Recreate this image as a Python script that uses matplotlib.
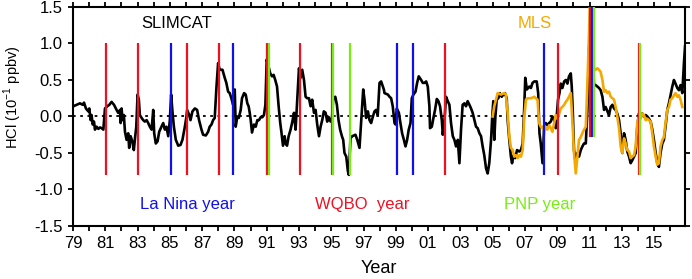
import numpy as np
import matplotlib
matplotlib.use("Agg")
import matplotlib.pyplot as plt
from matplotlib.ticker import MultipleLocator, FixedLocator

plt.rcParams['font.family'] = ['Liberation Sans', 'DejaVu Sans']
plt.rcParams['mathtext.fontset'] = 'custom'
plt.rcParams['mathtext.rm'] = 'Liberation Sans'

# SLIMCAT HCl anomaly
slim_year = [1979.02, 1979.23, 1979.43, 1979.60, 1979.68, 1979.80, 1979.95, 1980.01, 1980.09, 1980.15,
             1980.22, 1980.30, 1980.36, 1980.46, 1980.57, 1980.67, 1980.77, 1980.88, 1980.98, 1981.12,
             1981.25, 1981.39, 1981.54, 1981.70, 1981.80, 1981.91, 1981.95, 1982.01, 1982.07, 1982.15,
             1982.22, 1982.32, 1982.42, 1982.48, 1982.57, 1982.67, 1982.77, 1982.84, 1982.92, 1983.00,
             1983.08, 1983.14, 1983.25, 1983.35, 1983.45, 1983.56, 1983.66, 1983.76, 1983.87, 1983.97,
             1984.03, 1984.13, 1984.24, 1984.34, 1984.48, 1984.59, 1984.69, 1984.79, 1984.90, 1985.00,
             1985.08, 1985.16, 1985.25, 1985.37, 1985.52, 1985.66, 1985.78, 1985.93, 1986.03, 1986.07,
             1986.20, 1986.28, 1986.40, 1986.55, 1986.69, 1986.81, 1986.96, 1987.06, 1987.23, 1987.37,
             1987.47, 1987.58, 1987.68, 1987.78, 1987.89, 1987.99, 1988.09, 1988.26, 1988.40, 1988.50,
             1988.61, 1988.71, 1988.81, 1988.92, 1989.02, 1989.08, 1989.18, 1989.27, 1989.39, 1989.47,
             1989.60, 1989.70, 1989.80, 1989.88, 1989.95, 1990.01, 1990.09, 1990.21, 1990.32, 1990.42,
             1990.52, 1990.63, 1990.73, 1990.83, 1990.92, 1991.00, 1991.12, 1991.22, 1991.33, 1991.43,
             1991.53, 1991.64, 1991.74, 1991.84, 1991.91, 1992.01, 1992.11, 1992.17, 1992.26, 1992.36,
             1992.48, 1992.59, 1992.69, 1992.79, 1992.89, 1993.00, 1993.10, 1993.20, 1993.31, 1993.41,
             1993.51, 1993.62, 1993.72, 1993.82, 1993.93, 1994.03, 1994.13, 1994.24, 1994.34, 1994.44,
             1994.54, 1994.65, 1994.75, 1994.85, 1994.96, 1995.04, 1995.12, 1995.25, 1995.35, 1995.45,
             1995.55, 1995.66, 1995.74, 1995.82, 1995.93, 1996.03, 1996.09, 1996.19, 1996.30, 1996.40,
             1996.50, 1996.61, 1996.75, 1996.85, 1996.98, 1997.06, 1997.16, 1997.27, 1997.37, 1997.47,
             1997.58, 1997.68, 1997.78, 1997.88, 1997.99, 1998.09, 1998.26, 1998.30, 1998.40, 1998.51,
             1998.61, 1998.71, 1998.81, 1998.92, 1998.98, 1999.06, 1999.19, 1999.27, 1999.39, 1999.50,
             1999.60, 1999.70, 1999.80, 1999.91, 1999.99, 2000.09, 2000.22, 2000.32, 2000.42, 2000.57,
             2000.67, 2000.77, 2000.88, 2000.98, 2001.08, 2001.12, 2001.23, 2001.33, 2001.43, 2001.54,
             2001.64, 2001.74, 2001.85, 2001.91, 2002.01, 2002.11, 2002.22, 2002.32, 2002.42, 2002.53,
             2002.63, 2002.73, 2002.84, 2002.94, 2003.04, 2003.14, 2003.25, 2003.35, 2003.45, 2003.56,
             2003.66, 2003.76, 2003.87, 2003.97, 2004.07, 2004.18, 2004.28, 2004.38, 2004.48, 2004.59,
             2004.69, 2004.79, 2004.90, 2004.97, 2005.04, 2005.10, 2005.17, 2005.25, 2005.35, 2005.45,
             2005.56, 2005.66, 2005.76, 2005.87, 2005.93, 2006.03, 2006.13, 2006.20, 2006.30, 2006.40,
             2006.51, 2006.65, 2006.75, 2006.86, 2006.96, 2007.02, 2007.12, 2007.27, 2007.37, 2007.47,
             2007.58, 2007.73, 2007.82, 2007.90, 2007.98, 2008.09, 2008.19, 2008.29, 2008.39, 2008.50,
             2008.60, 2008.70, 2008.81, 2008.91, 2008.97, 2009.05, 2009.14, 2009.22, 2009.32, 2009.43,
             2009.53, 2009.63, 2009.73, 2009.84, 2009.90, 2009.96, 2010.04, 2010.15, 2010.25, 2010.35,
             2010.46, 2010.56, 2010.66, 2010.77, 2010.87, 2010.97, 2011.08, 2011.18, 2011.28, 2011.38,
             2011.49, 2011.59, 2011.69, 2011.80, 2011.90, 2012.00, 2012.11, 2012.21, 2012.31, 2012.42,
             2012.52, 2012.62, 2012.72, 2012.83, 2012.93, 2013.03, 2013.14, 2013.24, 2013.34, 2013.45,
             2013.55, 2013.65, 2013.76, 2013.86, 2013.96, 2014.06, 2014.17, 2014.27, 2014.37, 2014.48,
             2014.58, 2014.68, 2014.79, 2014.89, 2014.99, 2015.10, 2015.20, 2015.30, 2015.40, 2015.51,
             2015.61, 2015.71, 2015.82, 2015.92, 2016.02, 2016.13, 2016.23, 2016.33, 2016.44, 2016.54,
             2016.64, 2016.75, 2016.85, 2016.92]
slim_val = [0.14, 0.16, 0.18, 0.16, 0.19, 0.11, 0.07, 0.11, -0.05, 0.02,
            -0.11, -0.07, -0.18, -0.14, -0.17, -0.15, -0.16, -0.18, 0.11, 0.14,
            0.16, 0.20, 0.16, 0.09, 0.05, 0.09, -0.09, 0.11, -0.05, 0.02,
            -0.21, -0.32, -0.23, -0.43, -0.27, -0.34, -0.46, -0.30, -0.14, 0.30,
            0.23, 0.02, -0.02, -0.05, -0.07, -0.05, -0.09, -0.14, -0.18, 0.09,
            -0.23, -0.37, -0.34, -0.21, -0.14, -0.09, -0.18, -0.14, -0.27, -0.05,
            0.30, 0.07, -0.14, -0.32, -0.40, -0.39, -0.32, -0.14, 0.00, 0.09,
            0.02, -0.05, 0.07, 0.11, 0.09, -0.05, -0.18, -0.25, -0.26, -0.21,
            -0.14, -0.11, -0.05, -0.02, 0.41, 0.73, 0.64, 0.64, 0.53, 0.46,
            0.34, 0.32, 0.25, 0.16, 0.37, -0.14, 0.00, -0.02, 0.09, 0.25,
            0.32, 0.30, 0.18, 0.14, 0.05, -0.05, -0.22, -0.11, -0.14, -0.05,
            -0.05, -0.01, -0.01, 0.02, 0.16, 0.78, 0.68, 0.59, 0.55, 0.57,
            0.50, 0.41, 0.14, -0.09, -0.21, -0.40, -0.27, -0.37, -0.40, -0.27,
            -0.18, -0.07, 0.05, -0.18, 0.23, 0.66, 0.53, 0.64, 0.50, 0.27,
            0.25, 0.25, 0.14, 0.23, 0.05, 0.09, -0.11, -0.27, -0.14, -0.05,
            0.07, 0.05, -0.07, -0.01, -0.07, -0.05, 0.25, 0.27, 0.16, -0.05,
            -0.18, -0.27, -0.32, -0.50, -0.55, -0.75, -0.80, -0.30, -0.27, -0.26,
            -0.25, -0.32, -0.43, -0.09, 0.37, 0.23, -0.02, 0.07, -0.05, -0.09,
            0.00, 0.07, 0.09, 0.02, 0.46, 0.48, 0.37, 0.32, 0.31, 0.30,
            0.27, 0.25, 0.14, -0.09, -0.11, 0.11, 0.05, -0.07, -0.23, -0.32,
            -0.41, -0.32, -0.18, -0.09, 0.25, 0.30, 0.34, 0.46, 0.55, 0.50,
            0.46, 0.46, 0.48, 0.41, 0.14, -0.16, -0.14, -0.02, 0.09, 0.24,
            0.21, 0.14, -0.05, -0.25, -0.07, 0.27, 0.21, 0.16, -0.09, -0.27,
            -0.32, -0.41, -0.32, -0.64, -0.18, 0.16, 0.18, 0.14, 0.21, 0.16,
            0.11, 0.05, -0.05, -0.14, -0.16, -0.23, -0.27, -0.41, -0.53, -0.71,
            -0.78, -0.64, -0.32, -0.02, 0.21, -0.32, 0.00, 0.23, 0.25, 0.32,
            0.27, 0.30, 0.32, 0.25, -0.05, -0.32, -0.55, -0.64, -0.53, -0.57,
            -0.46, -0.48, -0.46, -0.37, 0.14, 0.53, 0.37, 0.41, 0.39, 0.46,
            0.48, 0.48, 0.32, -0.23, -0.37, -0.64, -0.14, -0.09, -0.12, -0.09,
            -0.07, 0.00, -0.05, -0.16, 0.00, 0.23, 0.32, 0.45, 0.39, 0.48,
            0.50, 0.45, 0.55, 0.59, 0.41, 0.09, -0.46, -0.64, -0.50, -0.55,
            -0.46, -0.41, -0.37, -0.37, 0.09, 0.91, 1.41, 0.91, 0.43, 0.43,
            0.41, 0.39, 0.36, 0.27, 0.09, 0.13, 0.07, 0.02, 0.13, 0.16,
            0.11, 0.09, 0.04, -0.05, -0.23, -0.50, -0.23, -0.32, -0.48, -0.55,
            -0.64, -0.60, -0.55, -0.50, -0.14, 0.04, 0.02, 0.04, 0.00, 0.02,
            0.00, -0.03, -0.07, -0.18, -0.32, -0.50, -0.64, -0.69, -0.50, -0.37,
            -0.32, -0.14, 0.09, 0.18, 0.29, 0.41, 0.50, 0.45, 0.39, 0.36,
            0.43, 0.32, 0.73, 0.96]

# MLS HCl anomaly
mls_year = [2005.00, 2005.10, 2005.31, 2005.52, 2005.72, 2005.82, 2005.93, 2006.03, 2006.13, 2006.24,
            2006.34, 2006.44, 2006.55, 2006.65, 2006.75, 2006.86, 2006.96, 2007.06, 2007.17, 2007.37,
            2007.58, 2007.67, 2007.78, 2007.88, 2007.98, 2008.09, 2008.19, 2008.29, 2008.39, 2008.50,
            2008.60, 2008.70, 2008.81, 2008.91, 2009.01, 2009.12, 2009.22, 2009.32, 2009.43, 2009.53,
            2009.63, 2009.73, 2009.84, 2009.90, 2009.98, 2010.04, 2010.15, 2010.25, 2010.35, 2010.46,
            2010.56, 2010.66, 2010.77, 2010.87, 2010.97, 2011.03, 2011.18, 2011.28, 2011.38, 2011.49,
            2011.59, 2011.69, 2011.80, 2011.90, 2012.00, 2012.11, 2012.21, 2012.31, 2012.42, 2012.52,
            2012.62, 2012.72, 2012.83, 2012.93, 2013.03, 2013.14, 2013.24, 2013.34, 2013.45, 2013.55,
            2013.65, 2013.76, 2013.86, 2013.96, 2014.06, 2014.17, 2014.27, 2014.37, 2014.48, 2014.58,
            2014.68, 2014.79, 2014.89, 2014.99, 2015.10, 2015.20, 2015.30, 2015.40, 2015.51, 2015.61,
            2015.71, 2015.82, 2015.92, 2016.02, 2016.13, 2016.23, 2016.33, 2016.44, 2016.54, 2016.64,
            2016.75]
mls_val = [0.00, 0.14, 0.32, 0.30, 0.32, 0.30, 0.05, -0.27, -0.43, -0.46,
           -0.55, -0.53, -0.57, -0.53, -0.55, -0.46, 0.00, 0.23, 0.25, 0.25,
           0.27, 0.25, 0.23, -0.09, -0.14, -0.16, -0.12, -0.16, -0.18, -0.12,
           -0.16, -0.21, -0.09, 0.02, -0.03, 0.04, 0.11, 0.13, 0.16, 0.20,
           0.23, 0.27, 0.32, 0.09, -0.23, -0.50, -0.78, -0.55, -0.32, -0.28,
           -0.23, -0.18, -0.14, 0.45, 1.14, 1.60, 1.05, 0.66, 0.64, 0.66,
           0.64, 0.61, 0.50, 0.34, 0.36, 0.32, 0.34, 0.27, 0.25, 0.23,
           0.13, 0.00, -0.16, -0.41, -0.50, -0.30, -0.37, -0.46, -0.48, -0.57,
           -0.55, -0.53, -0.41, -0.09, 0.00, -0.03, 0.04, 0.02, -0.05, -0.03,
           -0.05, -0.07, -0.23, -0.41, -0.55, -0.66, -0.64, -0.41, -0.32, -0.28,
           -0.09, 0.09, 0.13, 0.23, 0.25, 0.29, 0.32, 0.27, 0.29, 0.23,
           0.13]

# event years (vertical bars) with their lower / upper ends
wqbo_year = [1981.05, 1983.05, 1986.05, 1988.05, 1991.05, 1993.05, 1995.05, 2002.05, 2009.05, 2011.05, 2014.05]
wqbo_lo = [-0.8] * 9 + [-0.28, -0.8]
wqbo_hi = [1.0] * 9 + [1.6, 1.0]
nina_year = [1985.05, 1988.9, 1999.05, 2000.05, 2008.15, 2011.15]
nina_lo = [-0.8] * 5 + [-0.28]
nina_hi = [1.0] * 5 + [1.6]
pnp_year = [1991.13, 1995.13, 1996.15, 2011.25, 2014.15]
pnp_lo = [-0.8, -0.8, -0.8, -0.28, -0.8]
pnp_hi = [1.0, 1.0, 1.0, 1.6, 1.0]

c_red = '#ee1122'
c_blue = '#1010ee'
c_green = '#77ee11'
c_orange = '#f5a800'

fig = plt.figure(figsize=(6.92, 2.79), dpi=100)
ax = fig.add_axes([0.1055, 0.19, 0.884, 0.785])

ax.axhline(0, color='black', ls=(0, (1.5, 2.5)), lw=1.3, zorder=1)
ax.plot(slim_year, slim_val, color='black', lw=1.9, zorder=2)
ax.plot(mls_year, mls_val, color=c_orange, lw=1.9, zorder=3)

for yrs, lo, hi, c in [(wqbo_year, wqbo_lo, wqbo_hi, c_red),
                       (nina_year, nina_lo, nina_hi, c_blue),
                       (pnp_year, pnp_lo, pnp_hi, c_green)]:
    ax.vlines(yrs, lo, hi, colors=c, lw=1.6, zorder=4)

ax.text(1985.4, 1.28, 'SLIMCAT', color='black', fontsize=12, ha='center', va='center')
ax.text(2007.6, 1.28, 'MLS', color=c_orange, fontsize=12, ha='center', va='center')
ax.text(1986.1, -1.2, 'La Nina year', color=c_blue, fontsize=12, ha='center', va='center')
ax.text(1996.9, -1.2, 'WQBO  year', color=c_red, fontsize=12, ha='center', va='center')
ax.text(2007.9, -1.2, 'PNP year', color=c_green, fontsize=12, ha='center', va='center')

ax.set_xlim(1979, 2016.9)
ax.set_ylim(-1.5, 1.5)
major = list(range(1979, 2016, 2))
ax.xaxis.set_major_locator(FixedLocator(major))
ax.set_xticklabels(['%02d' % (y % 100) for y in major])
ax.xaxis.set_minor_locator(MultipleLocator(1))
ax.set_yticks(np.arange(-1.5, 1.51, 0.5))
ax.set_yticklabels(['%.1f' % v for v in np.arange(-1.5, 1.51, 0.5)])

ax.tick_params(which='both', direction='out', top=True, right=True, length=3.5, width=1.3,
               labelsize=12, pad=4)
ax.tick_params(axis='y', which='minor', left=False, right=False)
for s in ax.spines.values():
    s.set_linewidth(1.5)

ax.set_xlabel('Year', fontsize=13, labelpad=6)
ax.set_ylabel(r'HCl (10$^{\mathrm{-1}}$ ppbv)', fontsize=10.5)
ax.yaxis.set_label_coords(-0.08, 0.59)

fig.savefig('out.png', dpi=100)
